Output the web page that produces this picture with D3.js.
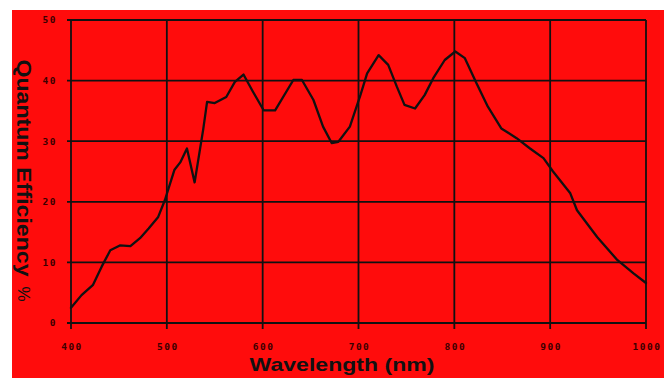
<!DOCTYPE html>
<html><head><meta charset="utf-8">
<script src="https://cdn.jsdelivr.net/npm/d3@7"></script>
<style>html,body{margin:0;padding:0;background:#fff;}svg{display:block;}</style>
</head><body>
<svg id="chart" width="665" height="378"></svg>
<script>
const wavelengths = [400,411,423,432,441,451,462,472,481,491,498,508,514,521,529,538,542,550,562,571,580,589,601,613,632,641,653,663,672,679,691,702,709,721,731,740,748,759,769,778,790,801,811,823,835,849,865,879,893,903,921,928,949,970,987,1000];
const efficiency = [2.5,4.6,6.3,9.3,12.0,12.8,12.7,14.0,15.6,17.5,20.3,25.3,26.5,28.8,23.2,32.0,36.5,36.3,37.3,39.8,41.0,38.4,35.1,35.1,40.1,40.1,36.8,32.4,29.7,29.9,32.4,37.6,41.2,44.2,42.6,39.0,36.0,35.4,37.6,40.4,43.4,44.8,43.7,39.6,35.7,32.1,30.5,28.8,27.2,25.0,21.4,18.6,14.2,10.4,8.2,6.6];
const xTicks = [400,500,600,700,800,900,1000];
const yTicks = [0,10,20,30,40,50];
const xTitle = "Wavelength (nm)";
const yTitle = "Quantum Efficiency";
const yUnit = "%";

const svg = d3.select("#chart");
svg.append("rect").attr("x",12).attr("y",10).attr("width",652).attr("height",368).attr("fill","#ff0c0c");

const x = d3.scaleLinear().domain([400,1000]).range([71,646]);
const y = d3.scaleLinear().domain([0,50]).range([323,20]);
const ink = "#111";

// gridlines
const g = svg.append("g");
g.selectAll(".vg").data(xTicks).join("line")
  .attr("x1",d=>x(d)).attr("x2",d=>x(d)).attr("y1",y(50)).attr("y2",y(0)+6)
  .attr("stroke",ink).attr("stroke-width",1.8);
g.selectAll(".hg").data(yTicks).join("line")
  .attr("y1",d=>y(d)).attr("y2",d=>y(d)).attr("x1",x(400)-4).attr("x2",x(1000))
  .attr("stroke",ink).attr("stroke-width",1.8);

// tick labels
svg.append("g").selectAll("text").data(yTicks).join("text")
  .attr("x",57).attr("y",d=>y(d)).attr("dy","0.35em").attr("text-anchor","end")
  .attr("font-family","DejaVu Sans Mono").attr("font-weight","bold").attr("font-size",9.5)
  .attr("letter-spacing",1.5).attr("fill","#3a0000").text(d=>d);
svg.append("g").selectAll("text").data(xTicks).join("text")
  .attr("x",d=>x(d)+1).attr("y",350).attr("text-anchor","middle")
  .attr("font-family","DejaVu Sans Mono").attr("font-weight","bold").attr("font-size",9.5)
  .attr("letter-spacing",1.5).attr("fill","#3a0000").text(d=>d);

// curve
const line = d3.line().x(d=>x(d[0])).y(d=>y(d[1]));
svg.append("path").datum(wavelengths.map((w,i)=>[w,efficiency[i]]))
  .attr("d",line).attr("fill","none").attr("stroke",ink).attr("stroke-width",2.3)
  .attr("stroke-linejoin","round").attr("stroke-linecap","round");

// titles
svg.append("text").attr("x",342).attr("y",371).attr("text-anchor","middle")
  .attr("font-family","Liberation Sans, Arial, sans-serif").attr("font-weight","bold")
  .attr("font-size",19).attr("textLength",185).attr("lengthAdjust","spacingAndGlyphs")
  .attr("fill",ink).text(xTitle);
svg.append("text").attr("transform","translate(17,168) rotate(90)").attr("text-anchor","middle")
  .attr("font-family","Liberation Sans, Arial, sans-serif").attr("font-weight","bold")
  .attr("font-size",20).attr("textLength",217).attr("lengthAdjust","spacingAndGlyphs")
  .attr("fill",ink).text(yTitle);
svg.append("text").attr("transform","translate(18,294) rotate(90)").attr("text-anchor","middle")
  .attr("font-family","Liberation Sans, Arial, sans-serif")
  .attr("font-size",17).attr("fill",ink).text(yUnit);
</script>
</body></html>
